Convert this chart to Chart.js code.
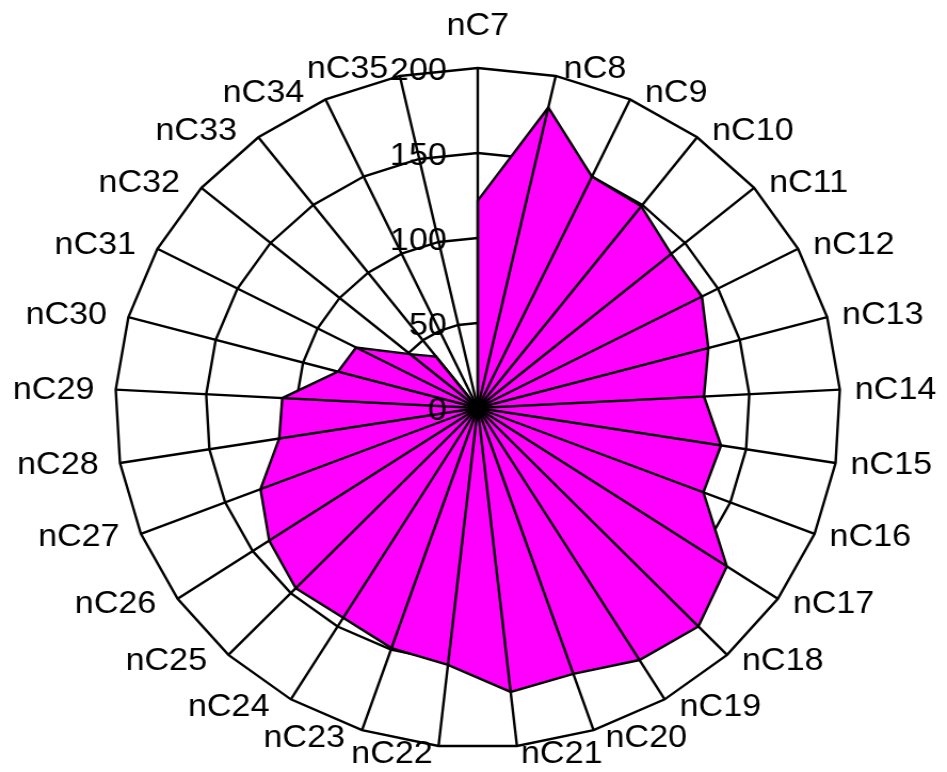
<!DOCTYPE html>
<html>
<head>
<meta charset="utf-8">
<script src="https://cdn.jsdelivr.net/npm/chart.js@4.4.1/dist/chart.umd.min.js"></script>
<style>
  html, body { margin: 0; padding: 0; background: #fff; overflow: hidden; }
  /* the reference is a little wider than tall, so the whole drawing is stretched sideways */
  #wrap { position: absolute; left: 0; top: 0; width: 888px; height: 772px; transform: scaleX(1.0664); transform-origin: 0 0; }
</style>
</head>
<body>
<div id="wrap"><canvas id="radarChart"></canvas></div>
<script>
const labels = ['nC7', 'nC8', 'nC9', 'nC10', 'nC11', 'nC12', 'nC13', 'nC14', 'nC15', 'nC16',
    'nC17', 'nC18', 'nC19', 'nC20', 'nC21', 'nC22', 'nC23', 'nC24', 'nC25', 'nC26',
    'nC27', 'nC28', 'nC29', 'nC30', 'nC31', 'nC32', 'nC33', 'nC34', 'nC35'];
const values = [122, 181, 150, 149, 140, 140, 132, 125, 136, 134,
    166, 177, 173, 165, 168, 152, 149, 144, 146, 139,
    129, 111, 108, 80, 76, 49, 38, 0, 0];
const tickValues = [0, 50, 100, 150, 200];

const FONT = '32px "Liberation Sans", Arial, sans-serif';
const LINE = 2.4;

// spokes sit on top of the magenta fill in the reference
const spokesOnTop = {
    id: 'spokesOnTop',
    afterDatasetsDraw(chart) {
        const scale = chart.scales.r;
        const ctx = chart.ctx;
        ctx.save();
        ctx.strokeStyle = '#000';
        ctx.lineWidth = LINE;
        labels.forEach((_, i) => {
            const p = scale.getPointPosition(i, scale.drawingArea);
            ctx.beginPath();
            ctx.moveTo(scale.xCenter, scale.yCenter);
            ctx.lineTo(p.x, p.y);
            ctx.stroke();
        });
        ctx.restore();
    }
};

// category names and value ticks, placed the way the reference does it
const textLayer = {
    id: 'textLayer',
    afterDraw(chart) {
        const scale = chart.scales.r;
        const ctx = chart.ctx;
        ctx.save();
        ctx.font = FONT;
        ctx.fillStyle = '#000';
        ctx.textBaseline = 'alphabetic';

        labels.forEach((lab, i) => {
            const a = scale.getIndexAngle(i);
            const s = Math.sin(a), c = Math.cos(a);
            const p = scale.getPointPosition(i, scale.drawingArea);
            if (Math.abs(s) < 0.05) {
                ctx.textAlign = 'center';
                ctx.fillText(lab, p.x, c > 0 ? p.y - 33 : p.y + 33);
                return;
            }
            const gap = (s > 0 ? 14 : 20) * Math.min(1, Math.abs(s) * 2.5);
            ctx.textAlign = s > 0 ? 'left' : 'right';
            const x = p.x + (s > 0 ? gap : -gap);
            const mid = p.y - 2 - 8 * c;
            ctx.fillText(lab, x, mid + 11.5);
        });

        ctx.textAlign = 'right';
        tickValues.forEach(v => {
            const y = scale.yCenter - scale.getDistanceFromCenterForValue(v);
            ctx.fillText(String(v), scale.xCenter - 29, y + 11.5);
        });
        ctx.restore();
    }
};

new Chart(document.getElementById('radarChart'), {
    type: 'radar',
    data: {
        labels: labels,
        datasets: [{
            data: values,
            backgroundColor: '#ff00ff',
            borderColor: '#000',
            borderWidth: LINE,
            pointRadius: 0,
            tension: 0,
            fill: true
        }]
    },
    options: {
        responsive: true, maintainAspectRatio: false,
        animation: false,
        layout: { padding: { left: 108, right: 100, top: 68, bottom: 24 } },
        plugins: { legend: { display: false }, tooltip: { enabled: false } },
        scales: {
            r: {
                min: 0, max: 200,
                ticks: { display: false, stepSize: 50 },
                grid: { color: '#000', lineWidth: LINE },
                angleLines: { display: false },
                pointLabels: { display: false }
            }
        }
    },
    plugins: [spokesOnTop, textLayer]
});
</script>
</body>
</html>
